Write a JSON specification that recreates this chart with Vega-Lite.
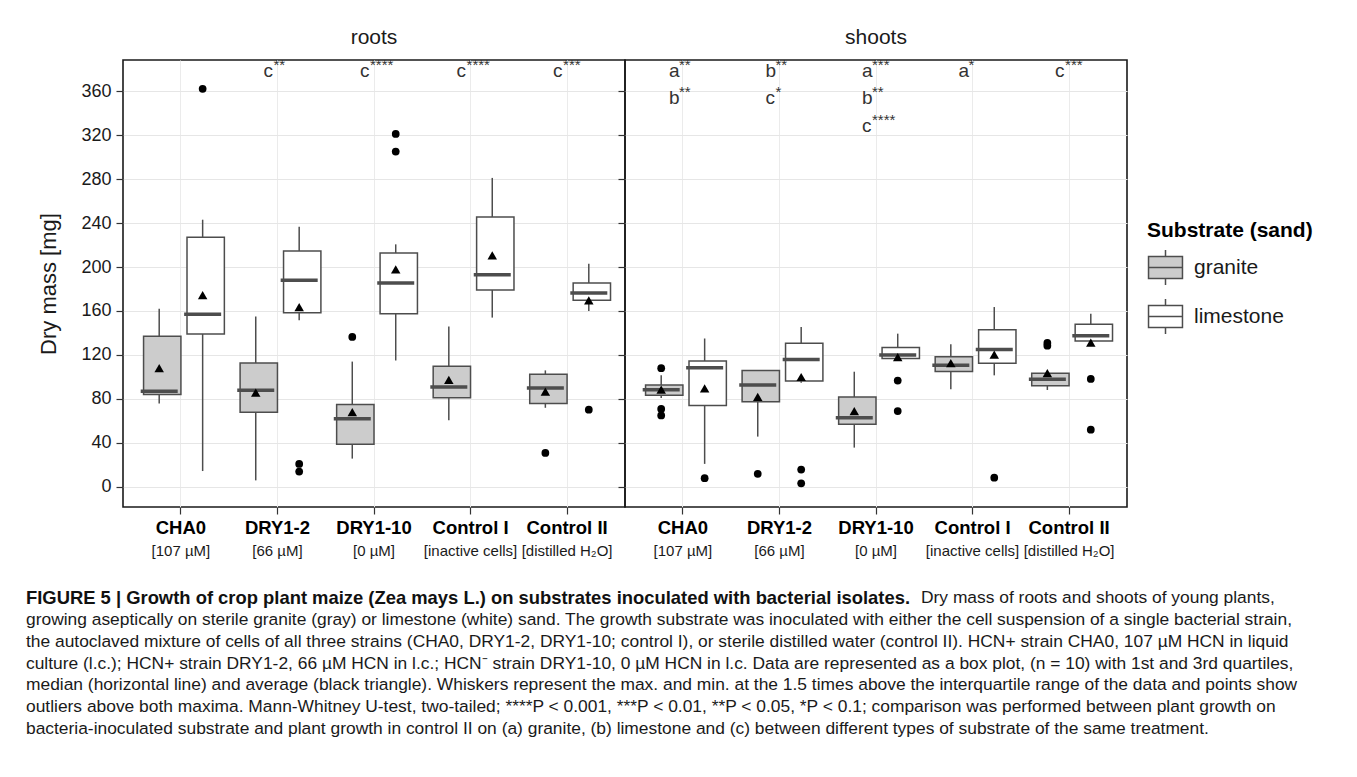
{
  "$schema": "https://vega.github.io/schema/vega-lite/v6.json",
  "padding": {"left": 26, "top": 25, "right": 0, "bottom": 0},
  "background": "white",
  "datasets": {
    "boxes": [
      {"panel": "roots", "treat": "CHA0|[107 µM]", "substrate": "granite", "lo": 76, "q1": 84, "med": 87, "q3": 137, "hi": 162, "mean": 108},
      {"panel": "roots", "treat": "CHA0|[107 µM]", "substrate": "limestone", "lo": 14.5, "q1": 139, "med": 157, "q3": 227, "hi": 243, "mean": 174.5},
      {"panel": "roots", "treat": "DRY1-2|[66 µM]", "substrate": "granite", "lo": 6, "q1": 68, "med": 88, "q3": 112.7, "hi": 155, "mean": 85.8},
      {"panel": "roots", "treat": "DRY1-2|[66 µM]", "substrate": "limestone", "lo": 151.5, "q1": 158.5, "med": 188, "q3": 214.5, "hi": 236.5, "mean": 163.6},
      {"panel": "roots", "treat": "DRY1-10|[0 µM]", "substrate": "granite", "lo": 25.8, "q1": 38.8, "med": 62, "q3": 75, "hi": 114, "mean": 68},
      {"panel": "roots", "treat": "DRY1-10|[0 µM]", "substrate": "limestone", "lo": 115, "q1": 157.6, "med": 185.5, "q3": 212.7, "hi": 220.6, "mean": 197.9},
      {"panel": "roots", "treat": "Control I|[inactive cells]", "substrate": "granite", "lo": 60.6, "q1": 81.2, "med": 91, "q3": 109.7, "hi": 145.8, "mean": 97.3},
      {"panel": "roots", "treat": "Control I|[inactive cells]", "substrate": "limestone", "lo": 154, "q1": 179, "med": 193, "q3": 245.5, "hi": 281, "mean": 210.6},
      {"panel": "roots", "treat": "Control II|[distilled H₂O]", "substrate": "granite", "lo": 72, "q1": 75.8, "med": 90, "q3": 102.4, "hi": 106, "mean": 86.7},
      {"panel": "roots", "treat": "Control II|[distilled H₂O]", "substrate": "limestone", "lo": 160, "q1": 169.7, "med": 176.4, "q3": 185.5, "hi": 203, "mean": 169.7},
      {"panel": "shoots", "treat": "CHA0|[107 µM]", "substrate": "granite", "lo": 81, "q1": 83.5, "med": 88.5, "q3": 92.7, "hi": 101.5, "mean": 88.5},
      {"panel": "shoots", "treat": "CHA0|[107 µM]", "substrate": "limestone", "lo": 21, "q1": 74, "med": 108.5, "q3": 114.5, "hi": 135, "mean": 89.7},
      {"panel": "shoots", "treat": "DRY1-2|[66 µM]", "substrate": "granite", "lo": 45.8, "q1": 77.6, "med": 92.7, "q3": 105.8, "hi": 105.8, "mean": 82},
      {"panel": "shoots", "treat": "DRY1-2|[66 µM]", "substrate": "limestone", "lo": 94.8, "q1": 96.4, "med": 116, "q3": 130.6, "hi": 145.5, "mean": 100},
      {"panel": "shoots", "treat": "DRY1-10|[0 µM]", "substrate": "granite", "lo": 35.8, "q1": 57, "med": 63, "q3": 81.8, "hi": 104.8, "mean": 69},
      {"panel": "shoots", "treat": "DRY1-10|[0 µM]", "substrate": "limestone", "lo": 116.7, "q1": 116.7, "med": 120, "q3": 126.7, "hi": 139.4, "mean": 118},
      {"panel": "shoots", "treat": "Control I|[inactive cells]", "substrate": "granite", "lo": 88.8, "q1": 105, "med": 110.6, "q3": 118.5, "hi": 129.7, "mean": 112.7},
      {"panel": "shoots", "treat": "Control I|[inactive cells]", "substrate": "limestone", "lo": 101.5, "q1": 112.4, "med": 125, "q3": 143, "hi": 163.6, "mean": 120.3},
      {"panel": "shoots", "treat": "Control II|[distilled H₂O]", "substrate": "granite", "lo": 88.2, "q1": 92, "med": 97.9, "q3": 103.3, "hi": 103.3, "mean": 103.6},
      {"panel": "shoots", "treat": "Control II|[distilled H₂O]", "substrate": "limestone", "lo": 132.7, "q1": 132.7, "med": 137.6, "q3": 147.9, "hi": 157.6, "mean": 131.2}
    ],
    "outliers": [
      {"panel": "roots", "treat": "CHA0|[107 µM]", "substrate": "limestone", "value": 362},
      {"panel": "roots", "treat": "DRY1-2|[66 µM]", "substrate": "limestone", "value": 21},
      {"panel": "roots", "treat": "DRY1-2|[66 µM]", "substrate": "limestone", "value": 14},
      {"panel": "roots", "treat": "DRY1-10|[0 µM]", "substrate": "granite", "value": 136.4},
      {"panel": "roots", "treat": "DRY1-10|[0 µM]", "substrate": "limestone", "value": 321},
      {"panel": "roots", "treat": "DRY1-10|[0 µM]", "substrate": "limestone", "value": 305},
      {"panel": "roots", "treat": "Control II|[distilled H₂O]", "substrate": "granite", "value": 31},
      {"panel": "roots", "treat": "Control II|[distilled H₂O]", "substrate": "limestone", "value": 70.3},
      {"panel": "shoots", "treat": "CHA0|[107 µM]", "substrate": "granite", "value": 108},
      {"panel": "shoots", "treat": "CHA0|[107 µM]", "substrate": "granite", "value": 71},
      {"panel": "shoots", "treat": "CHA0|[107 µM]", "substrate": "granite", "value": 65},
      {"panel": "shoots", "treat": "CHA0|[107 µM]", "substrate": "limestone", "value": 8},
      {"panel": "shoots", "treat": "DRY1-2|[66 µM]", "substrate": "granite", "value": 12},
      {"panel": "shoots", "treat": "DRY1-2|[66 µM]", "substrate": "limestone", "value": 15.8},
      {"panel": "shoots", "treat": "DRY1-2|[66 µM]", "substrate": "limestone", "value": 3.3},
      {"panel": "shoots", "treat": "DRY1-10|[0 µM]", "substrate": "limestone", "value": 96.7},
      {"panel": "shoots", "treat": "DRY1-10|[0 µM]", "substrate": "limestone", "value": 69},
      {"panel": "shoots", "treat": "Control I|[inactive cells]", "substrate": "limestone", "value": 8.5},
      {"panel": "shoots", "treat": "Control II|[distilled H₂O]", "substrate": "granite", "value": 131},
      {"panel": "shoots", "treat": "Control II|[distilled H₂O]", "substrate": "granite", "value": 128.5},
      {"panel": "shoots", "treat": "Control II|[distilled H₂O]", "substrate": "limestone", "value": 98.2},
      {"panel": "shoots", "treat": "Control II|[distilled H₂O]", "substrate": "limestone", "value": 52.1}
    ],
    "notes": [
      {"panel": "roots", "treat": "DRY1-2|[66 µM]", "letters": ["c"], "stars": ["**"]},
      {"panel": "roots", "treat": "DRY1-10|[0 µM]", "letters": ["c"], "stars": ["****"]},
      {"panel": "roots", "treat": "Control I|[inactive cells]", "letters": ["c"], "stars": ["****"]},
      {"panel": "roots", "treat": "Control II|[distilled H₂O]", "letters": ["c"], "stars": ["***"]},
      {"panel": "shoots", "treat": "CHA0|[107 µM]", "letters": ["a", "b"], "stars": ["**", "**"]},
      {"panel": "shoots", "treat": "DRY1-2|[66 µM]", "letters": ["b", "c"], "stars": ["**", "*"]},
      {"panel": "shoots", "treat": "DRY1-10|[0 µM]", "letters": ["a", "b", "c"], "stars": ["***", "**", "****"]},
      {"panel": "shoots", "treat": "Control I|[inactive cells]", "letters": ["a"], "stars": ["*"]},
      {"panel": "shoots", "treat": "Control II|[distilled H₂O]", "letters": ["c"], "stars": ["***"]}
    ],
    "caption": [
      {"line": 1, "part": "head", "text": "FIGURE 5 | Growth of crop plant maize (Zea mays L.) on substrates inoculated with bacterial isolates."},
      {"line": 1, "part": "tail", "text": "Dry mass of roots and shoots of young plants,"},
      {"line": 2, "part": "body", "text": "growing aseptically on sterile granite (gray) or limestone (white) sand. The growth substrate was inoculated with either the cell suspension of a single bacterial strain,"},
      {"line": 3, "part": "body", "text": "the autoclaved mixture of cells of all three strains (CHA0, DRY1-2, DRY1-10; control I), or sterile distilled water (control II). HCN+ strain CHA0, 107 µM HCN in liquid"},
      {"line": 4, "part": "body", "text": "culture (l.c.); HCN+ strain DRY1-2, 66 µM HCN in l.c.; HCN⁻ strain DRY1-10, 0 µM HCN in l.c. Data are represented as a box plot, (n = 10) with 1st and 3rd quartiles,"},
      {"line": 5, "part": "body", "text": "median (horizontal line) and average (black triangle). Whiskers represent the max. and min. at the 1.5 times above the interquartile range of the data and points show"},
      {"line": 6, "part": "body", "text": "outliers above both maxima. Mann-Whitney U-test, two-tailed; ****P < 0.001, ***P < 0.01, **P < 0.05, *P < 0.1; comparison was performed between plant growth on"},
      {"line": 7, "part": "body", "text": "bacteria-inoculated substrate and plant growth in control II on (a) granite, (b) limestone and (c) between different types of substrate of the same treatment."}
    ]
  },
  "vconcat": [
    {
      "hconcat": [
        {
          "width": 502,
          "height": 447,
          "title": {"text": "roots"},
          "resolve": {"axis": {"x": "independent"}},
          "layer": [
            {
              "data": {"name": "boxes"},
              "transform": [{"filter": "datum.panel === 'roots'"}],
              "mark": {"type": "rule", "color": "#4d4d4d", "strokeWidth": 1.5},
              "encoding": {
                "x": {"field": "treat", "type": "nominal", "scale": {"domain": ["CHA0|[107 µM]", "DRY1-2|[66 µM]", "DRY1-10|[0 µM]", "Control I|[inactive cells]", "Control II|[distilled H₂O]"], "paddingInner": 0.1, "paddingOuter": 0.15},
                  "axis": {"title": null, "labelExpr": "split(datum.value, '|')[0]", "labelFontWeight": "bold", "labelFontSize": 18.5, "labelAngle": 0, "labelPadding": 4, "tickSize": 7, "tickWidth": 1.2, "tickColor": "#333333", "labelColor": "#000000", "domain": false, "grid": true, "gridColor": "#ebebeb", "bandPosition": 0.5, "labelOverlap": false}},
                "xOffset": {"field": "substrate", "type": "nominal", "scale": {"domain": ["granite", "limestone"], "paddingInner": 0, "paddingOuter": 0}},
                "y": {"field": "lo", "type": "quantitative", "title": "Dry mass [mg]", "scale": {"domain": [-18.2, 388.2], "nice": false, "zero": false},
                  "axis": {"values": [0, 20, 40, 60, 80, 100, 120, 140, 160, 180, 200, 220, 240, 260, 280, 300, 320, 340, 360, 380], "labelExpr": "datum.value % 40 === 0 ? datum.label : ''", "labelOverlap": false, "labelFontSize": 18, "labelColor": "#1a1a1a", "labelPadding": 5, "tickSize": 7, "tickWidth": 1.2, "tickColor": "#333333", "tickOpacity": {"condition": {"test": "datum.value % 40 === 0", "value": 1}, "value": 0}, "gridColor": {"condition": {"test": "datum.value % 40 === 0", "value": "#e6e6e6"}, "value": "#f3f3f3"}, "domain": false, "titleFontSize": 22, "titleFontWeight": "normal", "titleColor": "#1a1a1a", "titlePadding": 20}},
                "y2": {"field": "hi"}
              }
            },
            {
              "data": {"name": "boxes"},
              "transform": [{"filter": "datum.panel === 'roots'"}],
              "mark": {"type": "bar", "stroke": "#4d4d4d", "strokeWidth": 1.5, "width": {"band": 0.86}},
              "encoding": {
                "x": {"field": "treat", "type": "nominal", "axis": null},
                "xOffset": {"field": "substrate", "type": "nominal"},
                "y": {"field": "q1", "type": "quantitative", "title": "Dry mass [mg]"},
                "y2": {"field": "q3"},
                "fill": {"field": "substrate", "type": "nominal", "scale": {"domain": ["granite", "limestone"], "range": ["#cccccc", "#ffffff"]},
                  "legend": {"title": "Substrate (sand)", "orient": "none", "legendX": 1024, "legendY": 160}}
              }
            },
            {
              "data": {"name": "boxes"},
              "transform": [{"filter": "datum.panel === 'roots'"}],
              "mark": {"type": "tick", "color": "#4d4d4d", "thickness": 3.5, "size": 37, "opacity": 1},
              "encoding": {
                "x": {"field": "treat", "type": "nominal", "axis": null},
                "xOffset": {"field": "substrate", "type": "nominal"},
                "y": {"field": "med", "type": "quantitative", "title": "Dry mass [mg]"}
              }
            },
            {
              "data": {"name": "boxes"},
              "transform": [{"filter": "datum.panel === 'roots'"}],
              "mark": {"type": "point", "shape": "triangle-up", "filled": true, "color": "#000000", "size": 90, "opacity": 1},
              "encoding": {
                "x": {"field": "treat", "type": "nominal",
                  "axis": {"orient": "bottom", "title": null, "labelExpr": "split(datum.value, '|')[1]", "labelFontSize": 15, "labelAngle": 0, "labelPadding": 36, "ticks": false, "tickSize": 0, "domain": false, "grid": false, "labelColor": "#1a1a1a", "labelOverlap": false}},
                "xOffset": {"field": "substrate", "type": "nominal"},
                "y": {"field": "mean", "type": "quantitative", "title": "Dry mass [mg]"}
              }
            },
            {
              "data": {"name": "outliers"},
              "transform": [{"filter": "datum.panel === 'roots'"}],
              "mark": {"type": "point", "shape": "circle", "filled": true, "color": "#000000", "size": 60, "opacity": 1},
              "encoding": {
                "x": {"field": "treat", "type": "nominal", "axis": null},
                "xOffset": {"field": "substrate", "type": "nominal"},
                "y": {"field": "value", "type": "quantitative", "title": "Dry mass [mg]"}
              }
            },
            {
              "data": {"name": "notes"},
              "transform": [{"filter": "datum.panel === 'roots'"}],
              "mark": {"type": "text", "align": "left", "baseline": "alphabetic", "fontSize": 19, "lineHeight": 27.5, "dx": -14, "color": "#333333"},
              "encoding": {
                "x": {"field": "treat", "type": "nominal", "axis": null},
                "y": {"datum": 373},
                "text": {"field": "letters"}
              }
            },
            {
              "data": {"name": "notes"},
              "transform": [{"filter": "datum.panel === 'roots'"}],
              "mark": {"type": "text", "align": "left", "baseline": "alphabetic", "fontSize": 15, "lineHeight": 27.5, "dx": -4, "dy": -7, "color": "#333333"},
              "encoding": {
                "x": {"field": "treat", "type": "nominal", "axis": null},
                "y": {"datum": 373},
                "text": {"field": "stars"}
              }
            }
          ]
        },
        {
          "width": 502,
          "height": 447,
          "title": {"text": "shoots"},
          "resolve": {"axis": {"x": "independent"}},
          "layer": [
            {
              "data": {"name": "boxes"},
              "transform": [{"filter": "datum.panel === 'shoots'"}],
              "mark": {"type": "rule", "color": "#4d4d4d", "strokeWidth": 1.5},
              "encoding": {
                "x": {"field": "treat", "type": "nominal", "scale": {"domain": ["CHA0|[107 µM]", "DRY1-2|[66 µM]", "DRY1-10|[0 µM]", "Control I|[inactive cells]", "Control II|[distilled H₂O]"], "paddingInner": 0.1, "paddingOuter": 0.15},
                  "axis": {"title": null, "labelExpr": "split(datum.value, '|')[0]", "labelFontWeight": "bold", "labelFontSize": 18.5, "labelAngle": 0, "labelPadding": 4, "tickSize": 7, "tickWidth": 1.2, "tickColor": "#333333", "labelColor": "#000000", "domain": false, "grid": true, "gridColor": "#ebebeb", "bandPosition": 0.5, "labelOverlap": false}},
                "xOffset": {"field": "substrate", "type": "nominal", "scale": {"domain": ["granite", "limestone"], "paddingInner": 0, "paddingOuter": 0}},
                "y": {"field": "lo", "type": "quantitative", "title": null, "scale": {"domain": [-18.2, 388.2], "nice": false, "zero": false},
                  "axis": {"values": [0, 20, 40, 60, 80, 100, 120, 140, 160, 180, 200, 220, 240, 260, 280, 300, 320, 340, 360, 380], "labels": false, "tickSize": 7, "tickWidth": 1.2, "tickColor": "#333333", "tickOpacity": {"condition": {"test": "datum.value % 40 === 0", "value": 1}, "value": 0}, "gridColor": {"condition": {"test": "datum.value % 40 === 0", "value": "#e6e6e6"}, "value": "#f3f3f3"}, "domain": false}},
                "y2": {"field": "hi"}
              }
            },
            {
              "data": {"name": "boxes"},
              "transform": [{"filter": "datum.panel === 'shoots'"}],
              "mark": {"type": "bar", "stroke": "#4d4d4d", "strokeWidth": 1.5, "width": {"band": 0.86}},
              "encoding": {
                "x": {"field": "treat", "type": "nominal", "axis": null},
                "xOffset": {"field": "substrate", "type": "nominal"},
                "y": {"field": "q1", "type": "quantitative", "title": null},
                "y2": {"field": "q3"},
                "fill": {"field": "substrate", "type": "nominal", "scale": {"domain": ["granite", "limestone"], "range": ["#cccccc", "#ffffff"]},
                  "legend": {"title": "Substrate (sand)", "orient": "none", "legendX": 1024, "legendY": 160}}
              }
            },
            {
              "data": {"name": "boxes"},
              "transform": [{"filter": "datum.panel === 'shoots'"}],
              "mark": {"type": "tick", "color": "#4d4d4d", "thickness": 3.5, "size": 37, "opacity": 1},
              "encoding": {
                "x": {"field": "treat", "type": "nominal", "axis": null},
                "xOffset": {"field": "substrate", "type": "nominal"},
                "y": {"field": "med", "type": "quantitative", "title": null}
              }
            },
            {
              "data": {"name": "boxes"},
              "transform": [{"filter": "datum.panel === 'shoots'"}],
              "mark": {"type": "point", "shape": "triangle-up", "filled": true, "color": "#000000", "size": 90, "opacity": 1},
              "encoding": {
                "x": {"field": "treat", "type": "nominal",
                  "axis": {"orient": "bottom", "title": null, "labelExpr": "split(datum.value, '|')[1]", "labelFontSize": 15, "labelAngle": 0, "labelPadding": 36, "ticks": false, "tickSize": 0, "domain": false, "grid": false, "labelColor": "#1a1a1a", "labelOverlap": false}},
                "xOffset": {"field": "substrate", "type": "nominal"},
                "y": {"field": "mean", "type": "quantitative", "title": null}
              }
            },
            {
              "data": {"name": "outliers"},
              "transform": [{"filter": "datum.panel === 'shoots'"}],
              "mark": {"type": "point", "shape": "circle", "filled": true, "color": "#000000", "size": 60, "opacity": 1},
              "encoding": {
                "x": {"field": "treat", "type": "nominal", "axis": null},
                "xOffset": {"field": "substrate", "type": "nominal"},
                "y": {"field": "value", "type": "quantitative", "title": null}
              }
            },
            {
              "data": {"name": "notes"},
              "transform": [{"filter": "datum.panel === 'shoots'"}],
              "mark": {"type": "text", "align": "left", "baseline": "alphabetic", "fontSize": 19, "lineHeight": 27.5, "dx": -14, "color": "#333333"},
              "encoding": {
                "x": {"field": "treat", "type": "nominal", "axis": null},
                "y": {"datum": 373},
                "text": {"field": "letters"}
              }
            },
            {
              "data": {"name": "notes"},
              "transform": [{"filter": "datum.panel === 'shoots'"}],
              "mark": {"type": "text", "align": "left", "baseline": "alphabetic", "fontSize": 15, "lineHeight": 27.5, "dx": -4, "dy": -7, "color": "#333333"},
              "encoding": {
                "x": {"field": "treat", "type": "nominal", "axis": null},
                "y": {"datum": 373},
                "text": {"field": "stars"}
              }
            }
          ]
        }
      ],
      "spacing": 0,
      "bounds": "flush"
    },
    {
      "width": 1300,
      "height": 131,
      "view": {"stroke": null},
      "data": {"name": "caption"},
      "layer": [
        {
          "transform": [{"filter": "datum.part === 'head'"}],
          "mark": {"type": "text", "align": "left", "baseline": "middle", "fontSize": 18.4, "fontWeight": "bold", "dx": -97, "color": "#111111"},
          "encoding": {
            "x": {"value": 0},
            "y": {"field": "line", "type": "ordinal", "scale": {"type": "point", "padding": 0, "domain": [1, 2, 3, 4, 5, 6, 7]}, "axis": null},
            "text": {"field": "text"}
          }
        },
        {
          "transform": [{"filter": "datum.part === 'tail'"}],
          "mark": {"type": "text", "align": "left", "baseline": "middle", "fontSize": 17.4, "dx": 798, "color": "#1a1a1a"},
          "encoding": {
            "x": {"value": 0},
            "y": {"field": "line", "type": "ordinal", "axis": null},
            "text": {"field": "text"}
          }
        },
        {
          "transform": [{"filter": "datum.part === 'body'"}],
          "mark": {"type": "text", "align": "left", "baseline": "middle", "fontSize": 17.4, "dx": -97, "color": "#1a1a1a"},
          "encoding": {
            "x": {"value": 0},
            "y": {"field": "line", "type": "ordinal", "axis": null},
            "text": {"field": "text"}
          }
        }
      ]
    }
  ],
  "spacing": 30,
  "config": {
    "font": "Liberation Sans",
    "view": {"stroke": "#1a1a1a", "strokeWidth": 1.6},
    "title": {"fontSize": 21, "fontWeight": "normal", "offset": 10, "color": "#1a1a1a", "font": "Liberation Sans"},
    "axis": {"labelFont": "Liberation Sans", "titleFont": "Liberation Sans"},
    "legend": {
      "titleFont": "Liberation Sans", "labelFont": "Liberation Sans",
      "titleFontSize": 21, "titleFontWeight": "bold", "titleColor": "#000000",
      "labelFontSize": 21, "labelColor": "#1a1a1a",
      "symbolType": "M-0.97,-0.63H0.97V0.63H-0.97Z M-0.97,0H0.97 M0,-0.63V-1 M0,0.63V1",
      "symbolSize": 1225, "symbolStrokeColor": "#4d4d4d", "symbolStrokeWidth": 1.5,
      "rowPadding": 8, "labelOffset": 10, "titlePadding": 8, "padding": 0
    }
  }
}
